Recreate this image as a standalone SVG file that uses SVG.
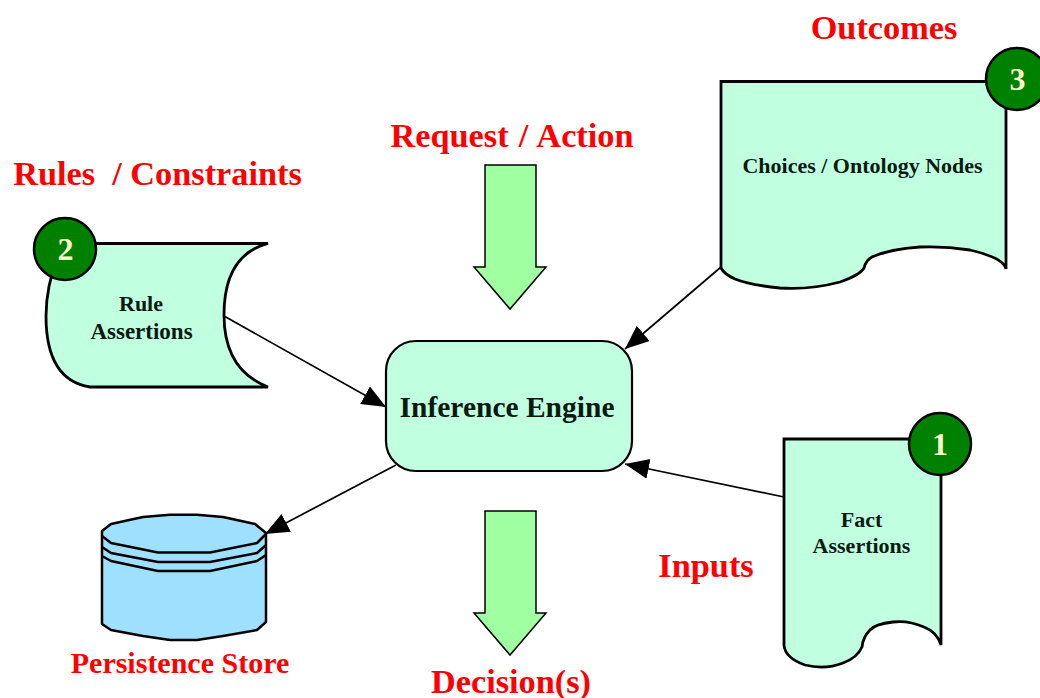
<svg xmlns="http://www.w3.org/2000/svg" width="1040" height="698" viewBox="0 0 1040 698">
<style>
text{font-family:"Liberation Serif","Times New Roman",serif;font-weight:bold;text-anchor:middle}
.red{fill:#ff0000;font-size:34.300px}
.lbl{fill:#0a1a10;font-size:22px}
.num{fill:#ffffcc;font-size:32px}
.shape{fill:#c0ffe0;stroke:#000;stroke-width:2.800;stroke-linejoin:miter}
.badge{fill:#008000;stroke:#000;stroke-width:2.500}
.big{fill:#a0ffa0;stroke:#000;stroke-width:1.500}
.db{fill:#a0e0ff;stroke:#000;stroke-width:2.500;stroke-linejoin:round}
.conn{stroke:#000;stroke-width:1.700;fill:none;marker-end:url(#arr)}
</style>
<defs>
<marker id="arr" markerUnits="userSpaceOnUse" markerWidth="26" markerHeight="22" refX="24" refY="10" orient="auto"><path d="M0 0L24 10L0 20Z" fill="#000"/></marker>
</defs>
<g id="connectors">
<line class="conn" x1="224" y1="316" x2="386" y2="407"/>
<line class="conn" x1="721" y1="267" x2="625" y2="349"/>
<line class="conn" x1="784" y1="497" x2="625" y2="464"/>
<line class="conn" x1="396" y1="465" x2="265" y2="534"/>
</g>
<g id="rule-assertions">
<path class="shape" d="M268 243.500H95L60 250Q46 285 46 316Q46 380 90 387H268Q224 370 224 315Q224 255 268 243.500Z"/>
<text class="lbl" x="141" y="311">Rule</text>
<text class="lbl" x="141.500" y="339" style="font-size:23px">Assertions</text>
<circle class="badge" cx="65" cy="249" r="31"/>
<text class="num" x="65.500" y="260">2</text>
</g>
<g id="choices">
<path class="shape" d="M721 268V81.500H1006V269Q1004 258 970 250Q945 246 920 247Q890 249 872 257Q866 260 864 268Q860 275 840 282Q810 290 780 288Q750 285 735 279Q724 274 721 268Z"/>
<text class="lbl" x="862.500" y="173">Choices / Ontology Nodes</text>
<circle class="badge" cx="1017" cy="79" r="31"/>
<text class="num" x="1017.500" y="90">3</text>
</g>
<g id="facts">
<path class="shape" d="M784 439H941V645Q937 632 924 627Q908 620 893 622Q875 624 870 630Q863 637 862 647Q857 658 843 663Q825 670 805 665Q785 658 784 645Z"/>
<text class="lbl" x="861.500" y="527">Fact</text>
<text class="lbl" x="861.500" y="553">Assertions</text>
<circle class="badge" cx="940" cy="444" r="31"/>
<text class="num" x="940" y="455">1</text>
</g>
<g id="inference-engine">
<rect class="shape" x="386" y="341" width="246" height="130" rx="30" ry="30" style="stroke-width:2.200"/>
<text x="507" y="417" font-size="29.500" fill="#0a1a10">Inference Engine</text>
</g>
<g id="store">
<path class="db" d="M102 531L111 524L143 517L170 514.700H197L223 517L255 524L266 533V622L257 630L223 636L197 640H170L143 636L111 630L102 624Z"/>
<path class="db" style="fill:none" d="M102 536L111 543L158 552.500H210L257 543L266 534M102 547L111 553L158 562H210L257 553L266 545M102 556L111 561L158 571H210L257 561L266 555"/>
<text x="180" y="673" font-size="30" fill="#ff0000">Persistence Store</text>
</g>
<g id="request-arrow">
<path class="big" d="M485 165H536V267H546L510 309L474 267H485Z"/>
</g>
<g id="decision-arrow">
<path class="big" d="M485 511H536V613H546L510 655L474 613H485Z"/>
</g>
<text class="red" x="157.500" y="185" xml:space="preserve">Rules  / Constraints</text>
<text class="red" x="512" y="147" style="word-spacing:1.500px">Request / Action</text>
<text class="red" x="884" y="39">Outcomes</text>
<text class="red" x="706" y="577">Inputs</text>
<text class="red" x="511" y="693">Decision(s)</text>
</svg>
